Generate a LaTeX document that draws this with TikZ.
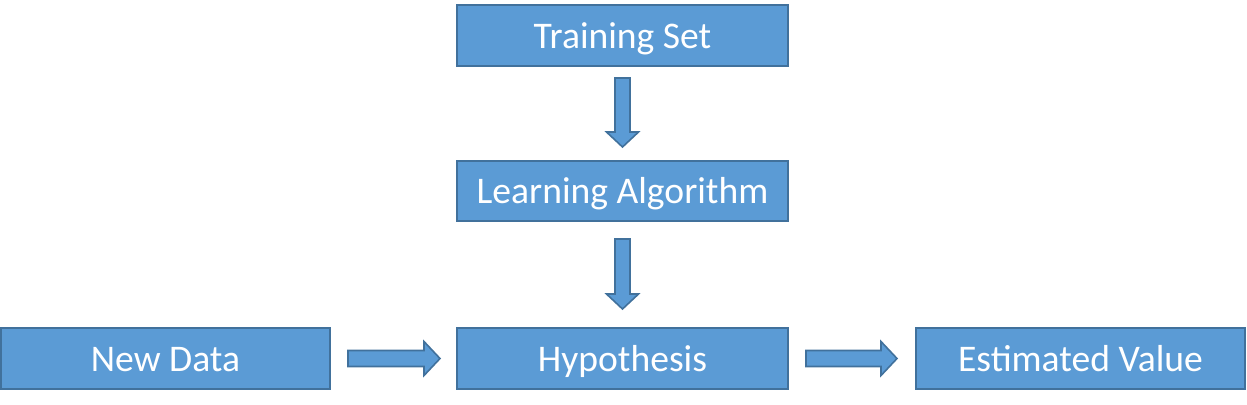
\documentclass[tikz,border=0pt]{standalone}
\usepackage{fontspec}
\setmainfont{Carlito}
\usetikzlibrary{calc}
\definecolor{boxfill}{HTML}{5B9BD5}
\definecolor{boxline}{HTML}{41719C}
\tikzset{
  box/.style={draw=boxline, fill=boxfill, line width=1pt, text=white, inner sep=0pt,
    text height=12.5pt, text depth=0pt,
    minimum width=#1*0.5pt, minimum height=61*0.5pt, font=\fontsize{18.8}{22}\selectfont},
  box/.default=331,
  barrow/.style={draw=boxline, fill=boxfill, line width=0.8pt, line join=miter}
}
\newcommand{\varrowblock}[2]{%
  \draw[barrow] ($(#1)+(-7.5,0)$) -- ($(#1)+(7.5,0)$) -- ($(#2)+(7.5,-15)$) -- ($(#2)+(16,-15)$) -- (#2) -- ($(#2)+(-16,-15)$) -- ($(#2)+(-7.5,-15)$) -- cycle;}
\newcommand{\harrowblock}[2]{%
  \draw[barrow] ($(#1)+(0,-8)$) -- ($(#2)+(-16,-8)$) -- ($(#2)+(-16,-17)$) -- (#2) -- ($(#2)+(-16,17)$) -- ($(#2)+(-16,8)$) -- ($(#1)+(0,8)$) -- cycle;}
\begin{document}
\begin{tikzpicture}[x=0.5pt,y=-0.5pt]
\useasboundingbox (0,0) rectangle (1247,404);
\node[box] (ts) at (622.5,35.5) {Training Set};
\node[box, minimum height=30pt] (la) at (622.5,191) {Learning Algorithm};
\node[box] (hy) at (622.5,358.5) {Hypothesis};
\node[box=329] (nd) at (165.5,358.5) {New Data};
\node[box=329] (ev) at (1080.5,358.5) {Estimated Value};
\path ($(ts.south)+(0,11)$) coordinate (a1s) ($(la.north)+(0,-13)$) coordinate (a1e)
      ($(la.south)+(0,17)$) coordinate (a2s) ($(hy.north)+(0,-18)$) coordinate (a2e)
      ($(nd.east)+(17,0)$) coordinate (a3s) ($(hy.west)+(-16,0)$) coordinate (a3e)
      ($(hy.east)+(17,0)$) coordinate (a4s) ($(ev.west)+(-18,0)$) coordinate (a4e);
\varrowblock{a1s}{a1e}
\varrowblock{a2s}{a2e}
\harrowblock{a3s}{a3e}
\harrowblock{a4s}{a4e}
\end{tikzpicture}
\end{document}
